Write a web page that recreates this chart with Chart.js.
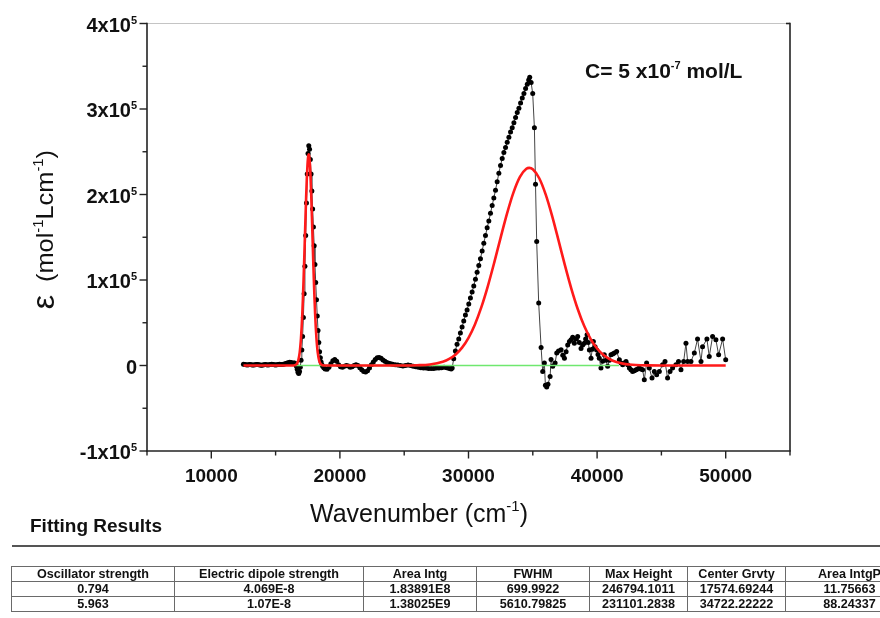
<!DOCTYPE html>
<html><head><meta charset="utf-8">
<script src="https://cdn.jsdelivr.net/npm/chart.js@4.4.1/dist/chart.umd.min.js"></script>
<style>
html,body{margin:0;padding:0;background:#fff;width:880px;height:618px;overflow:hidden;}
#c{position:absolute;left:0;top:0;}
#fitTitle{position:absolute;left:30px;top:515px;font:bold 19px "Liberation Sans",Arial,sans-serif;color:#111;white-space:nowrap;}
#rule{position:absolute;left:12px;top:545px;width:868px;height:2px;background:#555;}
#tbl{position:absolute;left:11px;top:566px;border-collapse:collapse;font:bold 12.6px "Liberation Sans",Arial,sans-serif;color:#111;table-layout:fixed;}
#tbl td{border:1px solid #6a6a6a;text-align:center;height:14px;padding:0;white-space:nowrap;overflow:hidden;line-height:13px;}
</style></head>
<body>
<canvas id="c" width="880" height="618"></canvas>
<div id="fitTitle">Fitting Results</div>
<div id="rule"></div>
<table id="tbl"></table>
<script>
// ---- experimental spectrum (black dots) ----
const waveBlack = [
12500,12600,12700,12800,12900,13000,13100,13200,13300,13400,
13500,13600,13700,13800,13900,14000,14100,14200,14300,14400,
14500,14600,14700,14800,14900,15000,15100,15200,15300,15400,
15500,15600,15700,15800,15900,16000,16100,16200,16300,16400,
16450,16500,16560,16620,16680,16740,16800,16860,16920,16980,
17040,17100,17160,17220,17280,17340,17400,17460,17520,17580,
17640,17700,17760,17820,17880,17940,18000,18060,18120,18180,
18240,18300,18360,18420,18480,18540,18600,18660,18750,18850,
19000,19150,19300,19450,19600,19750,19900,20050,20200,20350,
20500,20650,20800,20950,21100,21250,21400,21550,21700,21850,
22000,22150,22300,22450,22600,22750,22900,23050,23200,23350,
23500,23650,23800,23950,24100,24300,24500,24700,24900,25100,
25300,25500,25700,25900,26100,26300,26500,26700,26900,27100,
27300,27500,27700,27900,28100,28300,28500,28650,28730,28850,
28980,29110,29240,29370,29500,29630,29760,29890,30020,30150,
30280,30410,30540,30670,30800,30930,31060,31190,31320,31450,
31580,31710,31840,31970,32100,32230,32360,32490,32620,32750,
32880,33010,33140,33270,33400,33530,33660,33790,33920,34050,
34180,34310,34440,34570,34680,34760,34870,34993,35124,35210,
35303,35458,35645,35770,35900,35980,36080,36180,36345,36420,
36550,36735,36860,37000,37200,37330,37460,37590,37715,37850,
37975,38100,38230,38360,38490,38620,38750,38880,39010,39110,
39220,39310,39400,39530,39620,39710,39840,39965,40070,40170,
40300,40430,40560,40690,40820,40950,41080,41210,41340,41520,
41730,41860,41990,42120,42250,42380,42510,42630,42760,42900,
43030,43150,43280,43410,43540,43670,43850,44060,44270,44450,
44630,44840,45090,45280,45480,45670,45870,46130,46330,46520,
46730,46910,47040,47300,47560,47810,48080,48200,48540,48720,
48980,49240,49450,49760,50000
];
const epsBlack = [
1500,1200,800,600,900,1200,1000,700,500,800,
1100,1300,1000,600,400,700,1000,1200,900,600,
800,1100,1400,1200,900,700,900,1200,1500,1300,
1100,1400,1800,2300,2800,3300,3800,3500,2800,2500,
2800,2500,1500,-1000,-4500,-8000,-9500,-7000,-2000,6000,
18000,34000,56000,84000,116000,152000,190000,224000,248000,257000,
253000,241000,224000,204000,183000,162000,140000,118000,97000,77000,
58000,41000,27000,16000,9000,4000,1000,-1000,-2500,-4000,
-4500,-2000,2000,5500,7000,5000,1000,-1500,-2000,-1000,
0,-500,-2000,-1500,0,1000,0,-2500,-5000,-7000,
-7500,-6000,-3000,1000,4000,7000,9000,9500,8500,6500,
5000,3500,2500,2000,1500,1000,500,0,-500,0,
500,0,-1000,-1500,-2000,-2500,-3000,-3000,-3500,-3500,
-3500,-3000,-3000,-2500,-2000,-2500,-3500,-4000,-3000,8000,
17000,25000,31000,38000,45000,52000,59000,65000,72000,79000,
86000,93000,101000,109000,117000,125000,134000,143000,152000,161000,
169000,178000,187000,196000,205000,215000,225000,234000,242000,249000,
255000,261000,267000,273000,278000,284000,290000,296000,301000,307000,
313000,318000,324000,329000,334000,337000,331000,318000,278000,212000,
145000,73000,21000,-7000,3000,-23000,-25000,-22000,-13000,7000,
-1000,3000,14500,17000,18500,12000,8600,16000,24000,28000,
30000,33000,26000,31000,34000,27000,20000,24000,26000,31000,
36000,27000,18000,8600,19000,28000,22000,18000,13000,8600,
-3000,5000,12500,6000,-1000,6000,12500,13500,14500,16400,
6700,3000,800,3000,4700,1000,-3000,-5000,-7000,-6000,
-5000,-4000,-3000,-4000,-5000,-16700,2800,-3000,-14700,-7000,
-10900,-7000,800,4700,-14700,-7000,-3000,800,4700,-5000,
4700,26000,4700,4700,14500,31000,4700,22000,31000,10500,
34000,30000,12500,31000,6700
];
// ---- fitted curve (red) ----
const waveFit = [
12500,14000,15500,16200,16375,16575,16675,16775,16875,16925,
16975,17025,17075,17125,17175,17225,17275,17325,17375,17425,
17475,17525,17575,17625,17675,17725,17775,17825,17875,17925,
17975,18025,18075,18125,18175,18225,18275,18375,18475,18575,
18775,19500,22000,25000,26000,27000,28000,28500,29000,29500,
30000,30500,31000,31500,32000,32500,33000,33500,34000,34500,
34722,35000,35500,36000,36500,37000,37500,38000,38500,39000,
39500,40000,40500,41000,41500,42000,42500,43000,44000,45000,
47500,50000
];
const epsFit = [
0,0,0,0,70,860,2530,6610,15440,22600,
32200,44600,60000,78500,99900,123500,148400,173400,197000,217500,
233400,243500,247000,243500,233400,217500,197000,173400,148400,123500,
99900,78500,60000,44600,32200,22600,15440,6610,2530,860,
70,0,0,0,280,1210,4320,7640,12930,20940,
32430,48090,68220,92610,120300,149600,177900,202500,220600,230000,
231100,229500,219000,200100,175000,146300,117100,89700,65800,46100,
30960,19880,12220,7190,4050,2180,1120,550,120,0,
0,0
];
// ---- baseline (green) ----
const waveBase = [16500, 41700];
const epsBase = [0, 0];

// ---- axes ----
const xMajorTicks = [10000,20000,30000,40000,50000];
const xMinorTicks = [5000,15000,25000,35000,45000,55000];
const xTickLabels = ['10000','20000','30000','40000','50000'];
const yMajorTicks = [-100000,0,100000,200000,300000,400000];
const yMinorTicks = [-50000,50000,150000,250000,350000];
const yTickBase = ['-1x10','0','1x10','2x10','3x10','4x10'];
const yTickSup  = ['5','','5','5','5','5'];

// ---- table ----
const tableHeader = ['Oscillator strength','Electric dipole strength','Area Intg','FWHM','Max Height','Center Grvty','Area IntgP'];
const tableRow1 = ['0.794','4.069E-8','1.83891E8','699.9922','246794.1011','17574.69244','11.75663'];
const tableRow2 = ['5.963','1.07E-8','1.38025E9','5610.79825','231101.2838','34722.22222','88.24337'];
const colWidths = [163,189,113,113,98,98,128];

(function buildTable(){
  const t = document.getElementById('tbl');
  const cg = document.createElement('colgroup');
  colWidths.forEach(w=>{const c=document.createElement('col');c.style.width=w+'px';cg.appendChild(c);});
  t.appendChild(cg);
  [tableHeader,tableRow1,tableRow2].forEach(r=>{
    const tr=document.createElement('tr');
    r.forEach(v=>{const td=document.createElement('td');td.textContent=v;tr.appendChild(td);});
    t.appendChild(tr);
  });
  t.style.width = colWidths.reduce((a,b)=>a+b,0)+'px';
})();

const FONT = '"Liberation Sans", Arial, sans-serif';

function supText(ctx, parts, x, y, align){
  let total = 0;
  parts.forEach(p=>{ctx.font=p.font; p.w=ctx.measureText(p.t).width; total+=p.w;});
  let cx = align==='right' ? x-total : align==='center' ? x-total/2 : x;
  parts.forEach(p=>{ctx.font=p.font; ctx.fillText(p.t, cx, y+(p.dy||0)); cx+=p.w;});
  return total;
}

const decor = {
  id:'decor',
  afterDraw(chart){
    const {ctx, chartArea:a, scales:{x,y}} = chart;
    ctx.save();
    const L=(x1,y1,x2,y2)=>{ctx.beginPath();ctx.moveTo(x1,y1);ctx.lineTo(x2,y2);ctx.stroke();};
    ctx.lineCap='butt';
    ctx.strokeStyle='#c4c4c4'; ctx.lineWidth=1.2;
    L(a.left,a.top,a.right,a.top);
    ctx.strokeStyle='#222'; ctx.lineWidth=1.6;
    L(a.left,a.top-0.8,a.left,a.bottom+0.8);
    L(a.left-0.8,a.bottom,a.right+0.8,a.bottom);
    L(a.right,a.top-0.8,a.right,a.bottom);
    L(a.right-4,a.top,a.right,a.top);
    ctx.lineWidth=1.4;
    xMajorTicks.forEach(v=>{const p=x.getPixelForValue(v);L(p,a.bottom,p,a.bottom+7.5);});
    xMinorTicks.forEach(v=>{const p=x.getPixelForValue(v);L(p,a.bottom,p,a.bottom+4.5);});
    yMajorTicks.forEach(v=>{const p=y.getPixelForValue(v);L(a.left-7.5,p,a.left,p);});
    yMinorTicks.forEach(v=>{const p=y.getPixelForValue(v);L(a.left-4.5,p,a.left,p);});

    ctx.fillStyle='#111';
    ctx.textBaseline='alphabetic';
    ctx.textAlign='center';
    ctx.font='bold 19px '+FONT;
    xMajorTicks.forEach((v,i)=>{ctx.fillText(xTickLabels[i], x.getPixelForValue(v), 482);});
    ctx.textAlign='left';
    yMajorTicks.forEach((v,i)=>{
      const p=y.getPixelForValue(v);
      const parts=[{t:yTickBase[i],font:'bold 20px '+FONT,dy:0}];
      if(yTickSup[i]) parts.push({t:yTickSup[i],font:'bold 11px '+FONT,dy:-8});
      supText(ctx, parts, 137, p+8, 'right');
    });
    supText(ctx,[{t:'Wavenumber (cm',font:'25px '+FONT},{t:'-1',font:'15px '+FONT,dy:-11},{t:')',font:'25px '+FONT}], 419, 522, 'center');
    ctx.save();
    ctx.translate(53, 0);
    ctx.rotate(-Math.PI/2);
    ctx.font='32px '+FONT;
    ctx.textAlign='center';
    ctx.fillText('\u03B5', -302, 1);
    ctx.textAlign='left';
    const yparts=[{t:'(mol',font:'24px '+FONT},{t:'-1',font:'14px '+FONT,dy:-10},{t:'Lcm',font:'24px '+FONT},{t:'-1',font:'14px '+FONT,dy:-10},{t:')',font:'24px '+FONT}];
    let nat=0; yparts.forEach(p=>{ctx.font=p.font;nat+=ctx.measureText(p.t).width;});
    const sc=132/nat;
    ctx.translate(-282,0); ctx.scale(sc,1);
    supText(ctx,yparts,0,0,'left');
    ctx.restore();
    ctx.textAlign='left';
    supText(ctx,[{t:'C= 5 x10',font:'bold 21px '+FONT},{t:'-7',font:'bold 11px '+FONT,dy:-9},{t:' mol/L',font:'bold 21px '+FONT}], 585, 78, 'left');
    ctx.restore();
  }
};

const pts=(xs,ys)=>xs.map((v,i)=>({x:v,y:ys[i]}));

new Chart(document.getElementById('c'),{
  type:'line',
  data:{datasets:[
    {label:'Fit',data:pts(waveFit,epsFit),borderColor:'#ff1a1a',borderWidth:2.6,pointRadius:0,cubicInterpolationMode:'monotone',order:1},
    {label:'Baseline',data:pts(waveBase,epsBase),borderColor:'#6fe86f',borderWidth:1.5,pointRadius:0,order:2},
    {label:'Data',data:pts(waveBlack,epsBlack),borderColor:'#444',borderWidth:1,pointRadius:2.5,pointBackgroundColor:'#000',pointBorderWidth:0,tension:0,order:3}
  ]},
  options:{
    responsive:false,animation:false,
    layout:{padding:{left:147,right:90,top:23.5,bottom:167}},
    plugins:{legend:{display:false},tooltip:{enabled:false}},
    scales:{
      x:{type:'linear',min:5000,max:55000,ticks:{display:false},grid:{display:false},border:{display:false},afterFit:s=>{s.height=0;}},
      y:{type:'linear',min:-100000,max:400000,ticks:{display:false},grid:{display:false},border:{display:false},afterFit:s=>{s.width=0;}}
    }
  },
  plugins:[decor]
});
</script>
</body></html>
